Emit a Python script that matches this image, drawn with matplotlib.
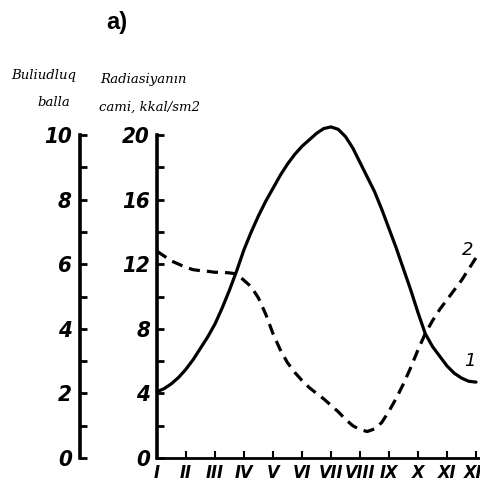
#!/usr/bin/env python3
"""
Annual course of cloudiness (balla) and total radiation (kkal/sm2) by month.
"""
import matplotlib
matplotlib.use("Agg")
import matplotlib.pyplot as plt

# months and Roman month labels
month_num = list(range(1, 13))
month_labels = ['I', 'II', 'III', 'IV', 'V', 'VI', 'VII', 'VIII', 'IX', 'X', 'XI', 'XII']

# values every quarter month
curve_months = [1.0, 1.25, 1.5, 1.75, 2.0, 2.25, 2.5, 2.75, 3.0, 3.25, 3.5, 3.75,
                4.0, 4.25, 4.5, 4.75, 5.0, 5.25, 5.5, 5.75, 6.0, 6.25, 6.5, 6.75,
                7.0, 7.25, 7.5, 7.75, 8.0, 8.25, 8.5, 8.75, 9.0, 9.25, 9.5, 9.75,
                10.0, 10.25, 10.5, 10.75, 11.0, 11.25, 11.5, 11.75, 12.0]

# curve 1 - total radiation, kkal/sm2 (right scale)
rad_values = [4.1, 4.3, 4.6, 5.0, 5.5, 6.1, 6.8, 7.5, 8.3, 9.3, 10.4, 11.6,
              12.9, 14.0, 15.0, 15.9, 16.7, 17.5, 18.2, 18.8, 19.3, 19.7, 20.1, 20.4,
              20.5, 20.35, 19.9, 19.2, 18.3, 17.4, 16.5, 15.4, 14.2, 13.0, 11.7, 10.4,
              9.0, 7.7, 6.9, 6.3, 5.7, 5.25, 4.95, 4.75, 4.7]

# curve 2 - cloudiness, balla (left scale)
cloud_values = [6.4, 6.25, 6.1, 6.0, 5.9, 5.83, 5.8, 5.78, 5.75, 5.75, 5.73, 5.7,
                5.5, 5.3, 4.95, 4.45, 3.85, 3.35, 2.95, 2.65, 2.4, 2.18, 2.0, 1.83,
                1.63, 1.43, 1.2, 1.0, 0.88, 0.82, 0.9, 1.1, 1.45, 1.85, 2.3, 2.8,
                3.35, 3.85, 4.25, 4.6, 4.9, 5.2, 5.5, 5.85, 6.2]

rad_ticks = [0, 4, 8, 12, 16, 20]
rad_minor = [2, 6, 10, 14, 18]
cloud_ticks = [0, 2, 4, 6, 8, 10]
cloud_minor = [1, 3, 5, 7, 9]

W, H = 481, 497
num_font = ['DejaVu Sans Condensed', 'Liberation Sans Narrow', 'DejaVu Sans']
num_kw = dict(family=num_font, style='italic', weight='bold', size=16,
              stretch='condensed')
mon_kw = dict(num_kw, size=13)
ser_kw = dict(family=['DejaVu Serif'], style='italic', size=9.5)

fig = plt.figure(figsize=(W / 100, H / 100), dpi=100)

x0, x1, y_top, y_bot = 157, 481, 135, 458
ax = fig.add_axes([x0 / W, (H - y_bot) / H, (x1 - x0) / W, (y_bot - y_top) / H])
ax.set_xlim(1, 1 + (x1 - x0) / 29.0)
ax.set_ylim(0, 20)
for s in ['top', 'right']:
    ax.spines[s].set_visible(False)
ax.spines['left'].set_linewidth(2.6)
ax.spines['bottom'].set_linewidth(2.0)

ax.set_yticks(rad_ticks)
ax.set_yticks(rad_minor, minor=True)
ax.set_yticklabels([str(v) for v in rad_ticks], **num_kw)
ax.tick_params(axis='y', which='both', direction='in', length=5, width=2, pad=5)
ax.set_xticks(month_num)
ax.set_xticklabels(month_labels, **mon_kw)
ax.tick_params(axis='x', direction='in', length=5, width=1.5, pad=4)

ax.plot(curve_months, rad_values, color='black', lw=2.3, clip_on=False,
        solid_capstyle='round', solid_joinstyle='round')

ax2 = ax.twinx()
ax2.set_ylim(0, 10)
for s in ['top', 'right', 'bottom']:
    ax2.spines[s].set_visible(False)
ax2.spines['left'].set_visible(True)
ax2.spines['left'].set_position(('axes', -(x0 - 80) / (x1 - x0)))
ax2.spines['left'].set_linewidth(2.6)
ax2.yaxis.tick_left()
ax2.set_yticks(cloud_ticks)
ax2.set_yticks(cloud_minor, minor=True)
ax2.set_yticklabels([str(v) for v in cloud_ticks], **num_kw)
ax2.tick_params(axis='y', which='both', direction='in', length=5, width=2, pad=6)

ax2.plot(curve_months, cloud_values, color='black', lw=2.3, ls=(0, (3.5, 2.2)),
         clip_on=False, dash_joinstyle='round')

# curve numbers
ax.text(11.8, 6.0, '1', style='italic', size=13, ha='center', va='center')
ax.text(11.72, 12.9, '2', style='italic', size=13, ha='center', va='center')

# axis titles
fig.text(44 / W, 1 - 75 / H, 'Buliudluq', ha='center', va='center', **ser_kw)
fig.text(54 / W, 1 - 102 / H, 'balla', ha='center', va='center', **ser_kw)
fig.text(100 / W, 1 - 80 / H, 'Radiasiyanın', ha='left', va='center', **ser_kw)
fig.text(99 / W, 1 - 107 / H, 'cami, kkal/sm2', ha='left', va='center', **ser_kw)

fig.text(117 / W, 1 - 23 / H, 'a)', ha='center', va='center',
         family=['Liberation Sans', 'DejaVu Sans'], weight='bold', size=17)

fig.savefig('out.png', dpi=100)
